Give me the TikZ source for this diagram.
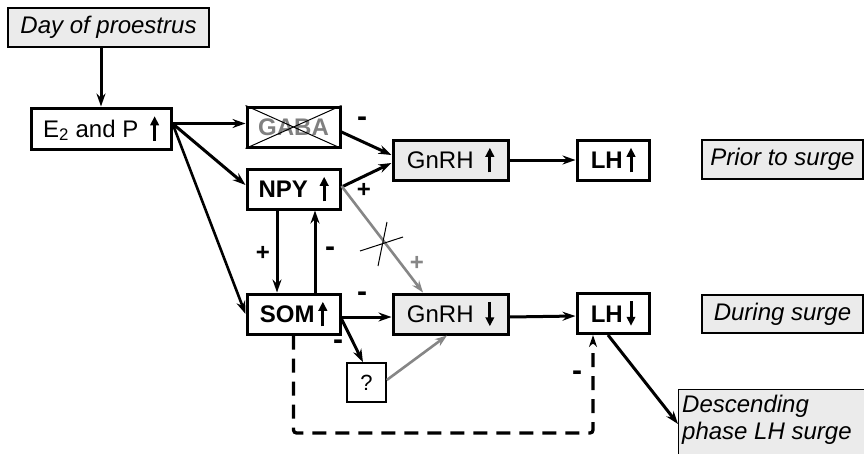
\documentclass[tikz,border=0pt]{standalone}
\usepackage{fontspec}
\setmainfont{Liberation Sans}
\usetikzlibrary{arrows.meta}
\definecolor{boxgray}{HTML}{EBEBEB}
\definecolor{lgray}{HTML}{868686}
\newcommand\myup{\tikz[baseline=0pt,x=1pt,y=1pt]{\draw[line width=3pt,-{Triangle[length=9pt,width=8.5pt]}] (0,-3.5) -- (0,21);}}
\newcommand\mydown{\tikz[baseline=0pt,x=1pt,y=1pt]{\draw[line width=3pt,-{Triangle[length=9pt,width=8.5pt]}] (0,21) -- (0,-3.5);}}
\begin{document}
\begin{tikzpicture}[x=1pt,y=-1pt,
  every node/.style={font=\fontsize{24}{27}\selectfont},
  wbox/.style={draw=black,line width=3pt,fill=white,inner sep=0pt,align=center},
  gbox/.style={draw=black,line width=3pt,fill=boxgray,inner sep=0pt,align=center},
  tbox/.style={draw=black,line width=1.3pt,fill=boxgray,inner sep=0pt,align=center,font=\fontsize{24}{27}\selectfont\itshape},
  arr/.style={line width=3pt,-{Stealth[length=13pt,width=9pt]}},
  garr/.style={line width=2.6pt,draw=lgray,-{Stealth[length=12pt,width=8.5pt]}},
  sgn/.style={font=\fontsize{24}{26}\selectfont\bfseries,inner sep=0pt},
  msgn/.style={font=\fontsize{30}{30}\selectfont\bfseries,inner sep=0pt},
  dsh/.style={line width=3.3pt,dash pattern=on 14pt off 9pt}
]
\useasboundingbox (0,0) rectangle (864,453);
% boxes
\node[tbox,minimum width=201pt,minimum height=39pt] (day) at (108.5,27.5) {Day of proestrus};
\node[wbox,minimum width=140pt,minimum height=41pt] (e2) at (101,128.5) {E\textsubscript{2} and P\enspace\myup};
\node[wbox,minimum width=93pt,minimum height=40pt,text=gray,font=\fontsize{24}{27}\selectfont\bfseries] (gaba) at (293.5,127) {GABA};
\draw[line width=1pt] (gaba.north west) -- (gaba.south east) (gaba.south west) -- (gaba.north east);
\node[wbox,minimum width=93pt,minimum height=40pt,font=\fontsize{24}{27}\selectfont\bfseries] (npy) at (293.5,189) {NPY\enspace\myup};
\node[gbox,minimum width=115pt,minimum height=40pt] (gnrh1) at (450.5,160) {GnRH\enspace\myup};
\node[wbox,minimum width=72pt,minimum height=40pt,font=\fontsize{24}{27}\selectfont\bfseries] (lh1) at (613,160) {LH\,\myup};
\node[tbox,minimum width=161pt,minimum height=39pt] (prior) at (782.5,159.5) {Prior to surge};
\node[wbox,minimum width=93pt,minimum height=40pt,font=\fontsize{24}{27}\selectfont\bfseries] (som) at (293.5,314) {SOM\,\myup};
\node[gbox,minimum width=115pt,minimum height=40pt] (gnrh2) at (450.5,314) {GnRH\enspace\mydown};
\node[wbox,minimum width=72pt,minimum height=40pt,font=\fontsize{24}{27}\selectfont\bfseries] (lh2) at (613,313.5) {LH\,\mydown};
\node[tbox,minimum width=161pt,minimum height=38pt] (during) at (782.5,314) {During surge};
\node[wbox,line width=1.6pt,minimum width=39pt,minimum height=39pt,font=\fontsize{22}{24}\selectfont] (q) at (366.5,382.5) {?};
\node[tbox,minimum width=186pt,minimum height=80pt,anchor=north west] (desc) at (678,389) {};
\node[anchor=north west,inner sep=0pt,align=left,font=\fontsize{24}{26.5}\selectfont\itshape] (desct) at (682,395) {Descending\\phase LH surge};
% connectors
\draw[arr] (e2.north |- day.south) -- (e2.north);
\coordinate (e2o) at ([yshift=5pt]e2.east);
\draw[arr] (e2o) -- (gaba.west |- e2o);
\draw[arr] (e2o) -- ([yshift=4pt]npy.west);
\draw[arr,line width=2.6pt] (e2o) -- (som.west);
\draw[arr] ([yshift=-5pt]gaba.east) -- ([yshift=5pt]gnrh1.west);
\draw[arr] ([yshift=2pt]npy.east) -- ([yshift=-3pt]gnrh1.west);
\draw[arr] (gnrh1) -- (lh1);
\draw[arr] ([xshift=-16.5pt]npy.south) -- ([xshift=-16.5pt]som.north);
\draw[arr] ([xshift=21.5pt]som.north) -- ([xshift=21.5pt]npy.south);
\draw[garr] ([yshift=3pt]npy.east) -- ([xshift=-27.5pt]gnrh2.north);
\draw[arr] ([yshift=-3pt]som.east) -- ([yshift=-3pt]gnrh2.west);
\draw[arr] ([yshift=-3pt]gnrh2.east) -- ([yshift=-2.5pt]lh2.west);
\draw[arr] ([yshift=-5pt]som.east) -- ([xshift=-3.5pt]q.north);
\draw[garr] ([yshift=2.5pt]q.east) -- ([xshift=-3.5pt]gnrh2.south);
\draw[arr] ([xshift=-5pt]lh2.south) -- ([yshift=-35pt]desc.north west);
\coordinate (dbot) at (0,433);
\draw[dsh,rounded corners=3pt,-{Stealth[length=12pt,width=8pt]}] (som.south) -- (som.south |- dbot) -| ([xshift=-20pt]lh2.south);
% cross on the grey connector
\draw[line width=1pt] (387,222) -- (378,266) (360,251) -- (403,237);
% signs
\node[msgn] (s1) at (362,122) {-};
\node[sgn] (s2) at (364,190) {+};
\node[sgn] (s3) at (263,253) {+};
\node[msgn] (s4) at (330,252) {-};
\node[sgn,text=lgray] (s5) at (417,263) {+};
\node[msgn] (s6) at (362,297) {-};
\node[msgn] (s7) at (338,345) {-};
\node[msgn] (s8) at (577,376) {-};
\end{tikzpicture}
\end{document}
